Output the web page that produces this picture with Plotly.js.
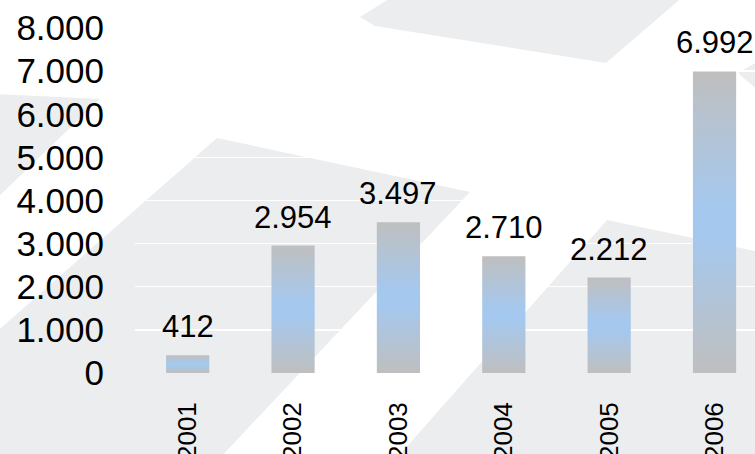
<!DOCTYPE html>
<html>
<head>
<meta charset="utf-8">
<script src="https://cdn.plot.ly/plotly-3.0.1.min.js"></script>
<style>
  html, body { margin: 0; padding: 0; background: #ffffff; }
  #chart { width: 755px; height: 454px; }
</style>
</head>
<body>
<div id="chart"></div>
<script>
// ---- data ----
const years = ['2001', '2002', '2003', '2004', '2005', '2006'];
const values = [412, 2954, 3497, 2710, 2212, 6992];
const yTickVals = [0, 1000, 2000, 3000, 4000, 5000, 6000, 7000, 8000];
const yTickText = ['0', '1.000', '2.000', '3.000', '4.000', '5.000', '6.000', '7.000', '8.000'];

function fmt(v) {
  return String(v).replace(/\B(?=(\d{3})+(?!\d))/g, '.');
}

// ---- layout geometry ----
const W = 755, H = 454;
const M = { l: 135, r: 0, t: 28, b: 81 };
const PW = W - M.l - M.r, PH = H - M.t - M.b;
function px(x) { return (x - M.l) / PW; }
function py(y) { return (H - M.b - y) / PH; }
function poly(pts) {
  return 'M ' + pts.map(p => px(p[0]).toFixed(4) + ',' + py(p[1]).toFixed(4)).join(' L ') + ' Z';
}

// decorative watermark bands (pixel positions)
const bands = [
  [[360, 17], [395, -5], [685, -5], [606, 63], [375, 26]],
  [[-5, 94], [100, 99], [-5, 200]],
  [[-5, 333], [217, 138], [470, 192], [218, 460], [-5, 460]],
  [[395, 460], [607, 220], [760, 252], [760, 460]],
  [[738, 73], [760, 60], [760, 92]]
];
const shapes = bands.map(b => ({
  type: 'path', xref: 'paper', yref: 'paper', layer: 'below',
  path: poly(b), fillcolor: '#ecedef', line: { width: 0 }
}));

const trace = {
  type: 'bar',
  x: years,
  y: values,
  width: 0.41,
  marker: { color: '#a5c8ee', line: { width: 0 } },
  hoverinfo: 'none'
};

const annotations = years.map((yr, i) => ({
  x: i, y: values[i], xref: 'x', yref: 'y',
  text: fmt(values[i]), showarrow: false,
  yanchor: 'bottom', yshift: 9,
  font: { family: 'Liberation Sans, Arial, sans-serif', size: 31, color: '#000000' }
}));

const layout = {
  width: W, height: H,
  margin: M,
  paper_bgcolor: '#ffffff',
  plot_bgcolor: 'rgba(0,0,0,0)',
  showlegend: false,
  shapes: shapes,
  annotations: annotations,
  xaxis: {
    type: 'category',
    range: [-0.5, 5.384],
    showgrid: false, zeroline: false, showline: false,
    ticks: '', tickangle: -90,
    ticklabelstandoff: 23,
    tickfont: { family: 'Liberation Sans, Arial, sans-serif', size: 26, color: '#000000' }
  },
  yaxis: {
    range: [0, 8000],
    tickvals: yTickVals, ticktext: yTickText,
    showgrid: true, gridcolor: '#ffffff', gridwidth: 1.3,
    zeroline: false, showline: false,
    ticks: '', ticklabelstandoff: 30,
    tickfont: { family: 'Liberation Sans, Arial, sans-serif', size: 35, color: '#000000' }
  }
};

Plotly.newPlot('chart', [trace], layout, { displayModeBar: false, staticPlot: true }).then(gd => {
  const svg = gd.querySelector('svg.main-svg');
  const ns = 'http://www.w3.org/2000/svg';
  let defs = svg.querySelector('defs');
  if (!defs) { defs = document.createElementNS(ns, 'defs'); svg.insertBefore(defs, svg.firstChild); }
  const grad = document.createElementNS(ns, 'linearGradient');
  grad.setAttribute('id', 'barGrad');
  grad.setAttribute('x1', '0'); grad.setAttribute('y1', '0');
  grad.setAttribute('x2', '0'); grad.setAttribute('y2', '1');
  [[0, '#bfbfbf'], [0.45, '#a5c8ee'], [0.55, '#a5c8ee'], [1, '#bfbfbf']].forEach(s => {
    const st = document.createElementNS(ns, 'stop');
    st.setAttribute('offset', s[0]);
    st.setAttribute('stop-color', s[1]);
    grad.appendChild(st);
  });
  defs.appendChild(grad);
  gd.querySelectorAll('.barlayer .point path').forEach(p => {
    p.style.fill = 'url(#barGrad)';
  });
});
</script>
</body>
</html>
